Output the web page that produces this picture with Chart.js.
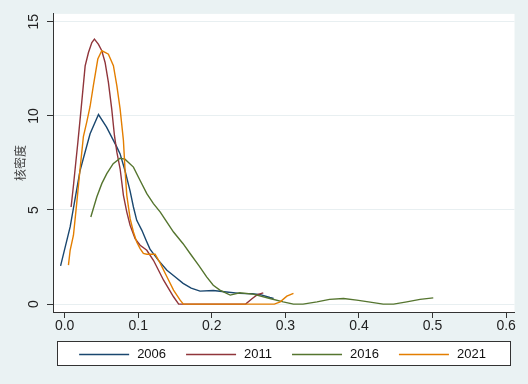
<!DOCTYPE html>
<html>
<head>
<meta charset="utf-8">
<script src="https://cdn.jsdelivr.net/npm/chart.js@4"></script>
<style>
  body { margin: 0; background: #eaf2f3; }
  #wrap { width: 528px; height: 384px; }
</style>
</head>
<body>
<div id="wrap"><canvas id="kde" width="528" height="384"></canvas></div>
<script>
const years = ["2006", "2011", "2016", "2021"];
const colors = ["#1a476f", "#90353b", "#55752f", "#e37e00"];

const x2006 = [-0.0055, 0.0075, 0.021, 0.0346, 0.046, 0.057, 0.071, 0.0754, 0.082, 0.089, 0.0935, 0.098, 0.105, 0.1107, 0.116, 0.127, 0.139, 0.15, 0.161, 0.172, 0.184, 0.202, 0.22, 0.238, 0.255, 0.266, 0.279, 0.284];
const y2006 = [2.03, 4.1, 7.1, 9.05, 10.07, 9.4, 8.34, 7.98, 7.1, 6.0, 5.16, 4.45, 3.92, 3.39, 2.92, 2.35, 1.8, 1.45, 1.1, 0.85, 0.69, 0.72, 0.64, 0.57, 0.55, 0.5, 0.35, 0.3];

const x2011 = [0.0088, 0.012, 0.0152, 0.018, 0.0224, 0.0279, 0.0324, 0.037, 0.0405, 0.046, 0.0505, 0.055, 0.0595, 0.064, 0.0677, 0.071, 0.0754, 0.0799, 0.0845, 0.089, 0.0958, 0.1026, 0.1117, 0.1207, 0.1345, 0.148, 0.155, 0.246, 0.255, 0.262, 0.27];
const y2011 = [5.16, 6.3, 7.54, 8.6, 10.37, 12.66, 13.37, 13.9, 14.08, 13.8, 13.46, 12.84, 11.78, 10.37, 8.96, 8.07, 7.19, 5.78, 4.89, 4.19, 3.48, 3.13, 2.86, 2.33, 1.27, 0.39, 0, 0, 0.3, 0.5, 0.6];

const x2016 = [0.0356, 0.0437, 0.0505, 0.0573, 0.066, 0.0754, 0.082, 0.0935, 0.1026, 0.1117, 0.1207, 0.13, 0.139, 0.148, 0.161, 0.1705, 0.182, 0.193, 0.202, 0.211, 0.225, 0.238, 0.256, 0.279, 0.297, 0.311, 0.324, 0.343, 0.36, 0.379, 0.397, 0.413, 0.433, 0.447, 0.465, 0.483, 0.501];
const y2016 = [4.63, 5.69, 6.4, 6.93, 7.46, 7.75, 7.7, 7.28, 6.57, 5.87, 5.34, 4.89, 4.36, 3.83, 3.21, 2.69, 2.07, 1.45, 1.0, 0.74, 0.48, 0.6, 0.53, 0.3, 0.12, 0, 0, 0.12, 0.25, 0.3, 0.21, 0.12, 0, 0, 0.12, 0.25, 0.33];

const x2021 = [0.0052, 0.0075, 0.012, 0.0166, 0.021, 0.0255, 0.0302, 0.0346, 0.039, 0.0451, 0.0505, 0.055, 0.0595, 0.0663, 0.071, 0.0754, 0.0799, 0.082, 0.0845, 0.089, 0.0935, 0.098, 0.1026, 0.107, 0.1117, 0.123, 0.13, 0.139, 0.148, 0.157, 0.1614, 0.285, 0.293, 0.302, 0.311];
const y2021 = [2.07, 2.86, 3.66, 5.42, 7.19, 8.9, 9.7, 10.5, 11.6, 13.02, 13.46, 13.37, 13.28, 12.67, 11.6, 10.37, 8.7, 7.19, 5.78, 4.54, 3.83, 3.3, 2.95, 2.69, 2.65, 2.65, 2.16, 1.45, 0.74, 0.21, 0, 0, 0.12, 0.42, 0.57];

const xTicks = [0, 0.1, 0.2, 0.3, 0.4, 0.5, 0.6];
const yTicks = [0, 5, 10, 15];

const seriesX = [x2006, x2011, x2016, x2021];
const seriesY = [y2006, y2011, y2016, y2021];

Chart.defaults.font.family = "'Liberation Sans', Arial, sans-serif";

// grey page, white plot region
const stataFrame = {
  id: "stataFrame",
  beforeDraw(chart) {
    const { ctx, chartArea: a } = chart;
    ctx.save();
    ctx.fillStyle = "#eaf2f3";
    ctx.fillRect(0, 0, chart.width, chart.height);
    ctx.fillStyle = "#ffffff";
    ctx.fillRect(a.left, a.top, a.right - a.left, a.bottom - a.top);
    ctx.restore();
  }
};

// boxed legend in one row under the x axis, like Stata's
const boxLegend = {
  id: "boxLegend",
  afterDraw(chart) {
    const { ctx, chartArea: a } = chart;
    const l = Math.round(a.left + 4) + 0.5;
    const r = Math.round(a.right - 5) + 0.5;
    const t = Math.round(a.bottom + 29) + 0.5;
    const h = 24;
    const cy = t + h / 2;
    ctx.save();
    ctx.fillStyle = "#ffffff";
    ctx.fillRect(l, t, r - l, h);
    ctx.strokeStyle = "#333333";
    ctx.lineWidth = 1;
    ctx.strokeRect(l, t, r - l, h);

    ctx.font = "13px 'Liberation Sans', Arial, sans-serif";
    ctx.textBaseline = "middle";
    ctx.textAlign = "left";
    const lineW = 50, gap = 8, between = 20;
    const metas = chart.data.datasets;
    const widths = metas.map(d => lineW + gap + ctx.measureText(d.label).width);
    const total = widths.reduce((s, w) => s + w, 0) + between * (metas.length - 1);
    let x = (l + r) / 2 - total / 2 - 1.5;
    metas.forEach((d, i) => {
      ctx.strokeStyle = d.borderColor;
      ctx.lineWidth = d.borderWidth;
      ctx.beginPath();
      ctx.moveTo(x, Math.round(cy) + 0.5);
      ctx.lineTo(x + lineW, Math.round(cy) + 0.5);
      ctx.stroke();
      ctx.fillStyle = "#111";
      ctx.fillText(d.label, x + lineW + gap, cy + 0.5);
      x += widths[i] + between;
    });
    ctx.restore();
  }
};

const datasets = years.map((yr, i) => ({
  label: yr,
  data: seriesX[i].map((x, j) => ({ x: x, y: seriesY[i][j] })),
  borderColor: colors[i],
  backgroundColor: colors[i],
  borderWidth: 1.4,
  pointRadius: 0,
  tension: 0,
  showLine: true,
  order: years.length - i
}));

new Chart(document.getElementById("kde"), {
  type: "scatter",
  data: { datasets },
  options: {
    responsive: false,
    animation: false,
    layout: { padding: { left: 0, right: 13.5, top: 13, bottom: 48 } },
    plugins: {
      tooltip: { enabled: false },
      legend: { display: false }
    },
    scales: {
      x: {
        type: "linear",
        min: -0.0158,
        max: 0.6114,
        afterBuildTicks: s => { s.ticks = xTicks.map(v => ({ value: v })); },
        afterFit: s => { s.height = 24; },
        ticks: {
          font: { size: 14 },
          color: "#222",
          padding: 0,
          maxRotation: 0,
          callback: v => v.toFixed(1)
        },
        grid: { drawOnChartArea: false, tickLength: 6, tickColor: "#333" },
        border: { color: "#333", width: 1 }
      },
      y: {
        type: "linear",
        min: -0.42,
        max: 15.42,
        afterBuildTicks: s => { s.ticks = yTicks.map(v => ({ value: v })); },
        afterFit: s => { s.width = 53; },
        ticks: {
          font: { size: 14 },
          color: "#222",
          minRotation: 90,
          maxRotation: 90,
          crossAlign: "center",
          padding: 5.5,
          callback: v => String(v)
        },
        grid: { color: "#e8eff1", lineWidth: 1, tickLength: 6, tickColor: "#333" },
        border: { color: "#333", width: 1 },
        title: {
          display: true,
          text: "核密度",
          color: "#444",
          font: { size: 12, family: "'Noto Sans CJK SC', sans-serif" },
          padding: { top: 13.5, bottom: 0 }
        }
      }
    }
  },
  plugins: [stataFrame, boxLegend]
});
</script>
</body>
</html>
